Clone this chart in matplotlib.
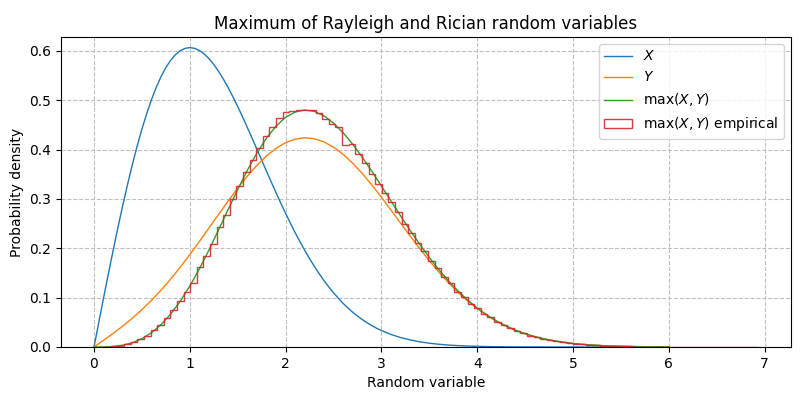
"""
Max of a Rayleigh and a Rician random variable: densities and empirical histogram.
"""

import numpy as np
import matplotlib
matplotlib.use('Agg')
import matplotlib.pyplot as plt

# Rayleigh density X, read every 0.05 up to 3 (sharp peak) and every 0.1 after
x_fine = np.round(np.r_[np.arange(0, 3, 0.05), np.arange(3, 6.01, 0.1)], 2)
pdf_x = [0.0, 0.0499, 0.0995, 0.1483, 0.1960, 0.2423, 0.2868, 0.3292, 0.3693, 0.4067,
         0.4413, 0.4728, 0.5012, 0.5262, 0.5479, 0.5661, 0.5809, 0.5923, 0.6003, 0.6050,
         0.6065, 0.6050, 0.6007, 0.5936, 0.5841, 0.5723, 0.5584, 0.5427, 0.5254, 0.5068,
         0.4870, 0.4663, 0.4449, 0.4230, 0.4008, 0.3785, 0.3562, 0.3342, 0.3125, 0.2913,
         0.2707, 0.2507, 0.2315, 0.2132, 0.1956, 0.1790, 0.1633, 0.1486, 0.1347, 0.1218,
         0.1098, 0.0988, 0.0884, 0.0791, 0.0704, 0.0627, 0.0555, 0.0491, 0.0433, 0.0380,
         0.0333, 0.0254, 0.0191, 0.0143, 0.0105, 0.0077, 0.0055, 0.0039, 0.0028, 0.0019,
         0.0013, 0.0009, 0.0006, 0.0004, 0.0003, 0.0002, 0.0001, 0.0001, 0.0, 0.0,
         0.0, 0.0, 0.0, 0.0, 0.0, 0.0, 0.0, 0.0, 0.0, 0.0, 0.0]

# Rician density Y and density of max(X, Y), read every 0.1 from 0 to 6
x = np.round(np.arange(0, 6.01, 0.1), 1)
pdf_y = [0.0, 0.0136, 0.0276, 0.0424, 0.0583, 0.0756, 0.0945, 0.1152, 0.1376, 0.1616, 0.1871,
         0.2137, 0.2411, 0.2685, 0.2956, 0.3217, 0.3460, 0.3680, 0.3870, 0.4025, 0.4140,
         0.4210, 0.4238, 0.4219, 0.4155, 0.4049, 0.3903, 0.3723, 0.3514, 0.3282, 0.3032,
         0.2773, 0.2509, 0.2247, 0.1992, 0.1747, 0.1516, 0.1303, 0.1108, 0.0932, 0.0777,
         0.0640, 0.0522, 0.0422, 0.0337, 0.0267, 0.0209, 0.0162, 0.0124, 0.0094, 0.0071,
         0.0053, 0.0039, 0.0028, 0.0020, 0.0015, 0.0010, 0.0007, 0.0005, 0.0003, 0.0002]
pdf_max = [0.0, 0.0001, 0.0011, 0.0037, 0.0086, 0.0168, 0.0288, 0.0453, 0.0665, 0.0926, 0.1234,
           0.1583, 0.1966, 0.2371, 0.2785, 0.3192, 0.3578, 0.3928, 0.4231, 0.4474, 0.4653,
           0.4761, 0.4801, 0.4773, 0.4683, 0.4536, 0.4341, 0.4107, 0.3844, 0.3559, 0.3260,
           0.2957, 0.2655, 0.2361, 0.2079, 0.1813, 0.1565, 0.1338, 0.1133, 0.0950, 0.0789,
           0.0649, 0.0528, 0.0426, 0.0340, 0.0269, 0.0210, 0.0163, 0.0125, 0.0095, 0.0071,
           0.0053, 0.0039, 0.0028, 0.0020, 0.0015, 0.0010, 0.0007, 0.0005, 0.0003, 0.0002]

# empirical histogram of max(X, Y): 100 bins between the sample min and max
hist_lo, hist_hi, n_bins = 0.04, 6.93, 100
hist_density = [0.0, 0.0004, 0.0014, 0.0029, 0.0061, 0.0095, 0.0158, 0.0230, 0.0335, 0.0442,
                0.0590, 0.0748, 0.0935, 0.1110, 0.1300, 0.1615, 0.1850, 0.2080, 0.2430, 0.2680,
                0.2990, 0.3270, 0.3550, 0.3780, 0.4040, 0.4270, 0.4460, 0.4630, 0.4760, 0.4790,
                0.4795, 0.4800, 0.4805, 0.4750, 0.4610, 0.4520, 0.4460, 0.4100, 0.4120, 0.3900,
                0.3720, 0.3510, 0.3310, 0.3120, 0.2940, 0.2735, 0.2490, 0.2310, 0.2110, 0.1945,
                0.1740, 0.1600, 0.1410, 0.1290, 0.1120, 0.1015, 0.0880, 0.0790, 0.0670, 0.0605,
                0.0510, 0.0450, 0.0385, 0.0320, 0.0282, 0.0230, 0.0203, 0.0160, 0.0142, 0.0112,
                0.0097, 0.0076, 0.0066, 0.0051, 0.0042, 0.0036, 0.0027, 0.0023, 0.0017, 0.0013,
                0.0011, 0.0008, 0.0007, 0.0005, 0.0004, 0.0003, 0.0002, 0.0002, 0.0001, 0.0001,
                0.0001, 0.0, 0.0001, 0.0, 0.0, 0.0, 0.0, 0.0, 0.0, 0.0001]
edges = np.linspace(hist_lo, hist_hi, n_bins + 1)

fig, ax = plt.subplots(figsize=(8, 4), dpi=100)
fig.subplots_adjust(left=0.076, right=0.989, top=0.9075, bottom=0.1325)

ax.plot(x_fine, pdf_x, color='tab:blue', lw=1, label='$X$')
ax.plot(x, pdf_y, color='tab:orange', lw=1, label='$Y$')
ax.plot(x, pdf_max, color='tab:green', lw=1, label='$\\max(X, Y)$')
ax.hist(edges[:-1], bins=edges, weights=hist_density, histtype='step',
        color='tab:red', lw=1, alpha=0.9, label='$\\max(X, Y)$ empirical')

ax.set_ylim(0, 0.628)
ax.grid(True, linestyle='--', color='0.75')
ax.set_xlabel('Random variable')
ax.set_ylabel('Probability density')
ax.set_title('Maximum of Rayleigh and Rician random variables')
ax.legend(loc='upper right')

fig.savefig('out.png')
